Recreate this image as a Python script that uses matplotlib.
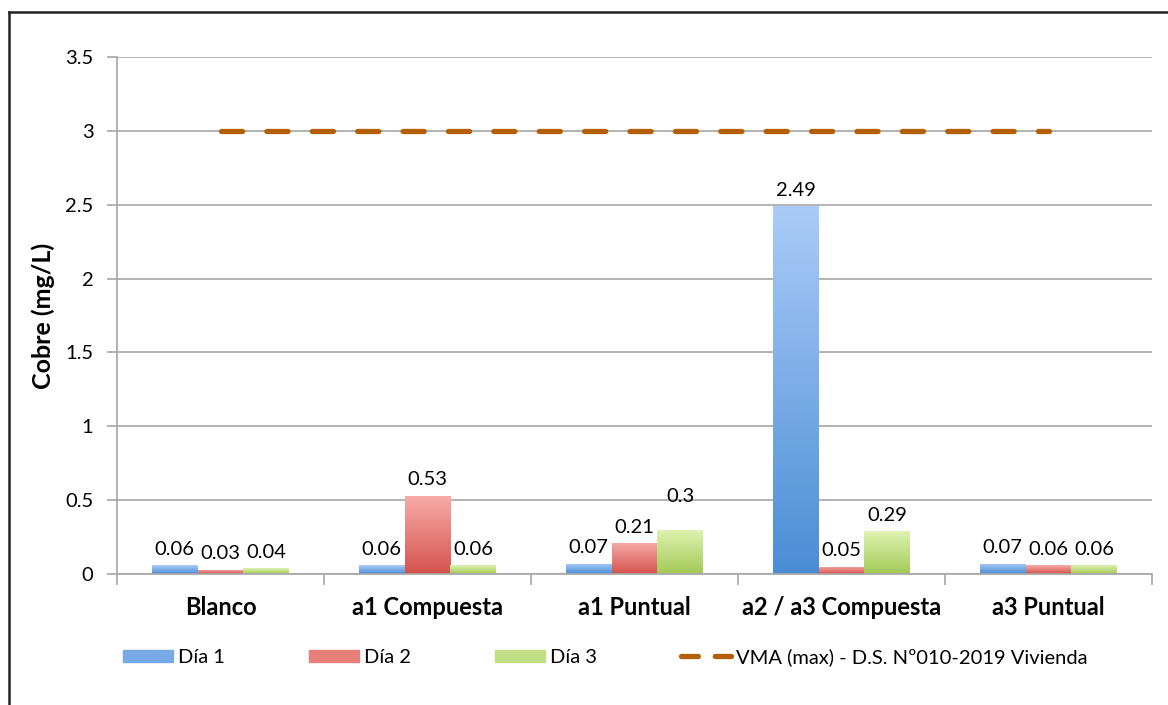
import numpy as np
import matplotlib
matplotlib.use("Agg")
import matplotlib.pyplot as plt
from matplotlib.colors import LinearSegmentedColormap
from matplotlib.lines import Line2D

plt.rcParams['font.family'] = ['Lato', 'DejaVu Sans']

# data
categories = ["Blanco", "a1 Compuesta", "a1 Puntual", "a2 / a3 Compuesta", "a3 Puntual"]
dia1 = [0.06, 0.06, 0.07, 2.49, 0.07]
dia2 = [0.03, 0.53, 0.21, 0.05, 0.06]
dia3 = [0.04, 0.06, 0.30, 0.29, 0.06]
series_names = ["Día 1", "Día 2", "Día 3"]
vma_value = 3.0
vma_name = "VMA (max) - D.S. Nº010-2019 Vivienda"

# gradient colours (top, bottom) for each series
grads = [("#aacbf7", "#4a8dd5"), ("#f8acaa", "#d5524d"), ("#def3b0", "#a3c957")]
mid_cols = ["#77a9e6", "#e77f7b", "#c0df84"]
vma_col = "#b45f06"

fig = plt.figure(figsize=(11.68, 7.05), dpi=100)
ax = fig.add_axes([117 / 1168, 1 - 574 / 705, (1152 - 117) / 1168, (574 - 57) / 705])

x = np.arange(len(categories))
w = 0.222
all_series = [dia1, dia2, dia3]

for i, vals in enumerate(all_series):
    cmap = LinearSegmentedColormap.from_list("g%d" % i, [grads[i][1], grads[i][0]])
    xs = x + (i - 1) * w
    bars = ax.bar(xs, vals, w, color=mid_cols[i], label=series_names[i], zorder=2)
    grad = np.linspace(0, 1, 256).reshape(-1, 1)
    for b, v in zip(bars, vals):
        b.set_facecolor("none")
        x0 = b.get_x()
        im = ax.imshow(grad, extent=[x0, x0 + w, 0, v], origin="lower",
                       aspect="auto", cmap=cmap, zorder=2)
        im.set_clip_path(b)
    for xi, v in zip(xs, vals):
        off = 0.12 if (v == 0.3) else 0.0   # this label sits higher in the original
        ax.text(xi, v + 0.05 + off, f"{v:g}", ha="center", va="bottom", fontsize=14.5)

# handles for legend with solid mid colours
handles = [plt.Rectangle((0, 0), 1, 1, color=c) for c in mid_cols]

ax.plot([x[0], x[-1]], [vma_value, vma_value], color=vma_col, lw=3.8,
        linestyle=(0, (4, 4.6)), dash_capstyle="round", zorder=3)
vma_handle = Line2D([], [], color=vma_col, lw=3.8, linestyle=(0, (3.2, 3.2)),
                    dash_capstyle="round")

ax.set_xlim(-0.5, len(categories) - 0.5)
ax.set_ylim(0, 3.5)
ax.set_yticks(np.arange(0, 3.51, 0.5))
ax.set_yticklabels(["0", "0.5", "1", "1.5", "2", "2.5", "3", "3.5"], fontsize=14.5)
ax.grid(axis="y", color="#a6a6a6", lw=1.2, zorder=0)
ax.set_axisbelow(True)

ax.set_xticks(x)
ax.set_xticklabels(categories, fontsize=17, fontweight="bold")
ax.tick_params(axis="x", which="major", length=0, pad=16)
ax.set_xticks(np.arange(-0.5, len(categories), 1), minor=True)
ax.tick_params(axis="x", which="minor", length=8, color="#a6a6a6", width=1.2)
ax.tick_params(axis="y", length=7, color="#a6a6a6", width=1.2, pad=10)

for s in ["top", "right"]:
    ax.spines[s].set_visible(False)
for s in ["left", "bottom"]:
    ax.spines[s].set_color("#a6a6a6")
    ax.spines[s].set_linewidth(1.2)

ax.set_ylabel("Cobre (mg/L)", fontsize=18, fontweight="bold", labelpad=7)

fig.legend(handles + [vma_handle], series_names + [vma_name],
           loc="center left", bbox_to_anchor=(123 / 1168, 1 - 657 / 705),
           ncol=4, frameon=False, fontsize=14.5, handlelength=2.5,
           handleheight=0.55, handletextpad=0.25, columnspacing=4.15,
           borderaxespad=0, borderpad=0)

# outer frame (left and top edges)
fig.add_artist(Line2D([9 / 1168, 9 / 1168], [0, 1 - 12 / 705], color="#222222", lw=1.8))
fig.add_artist(Line2D([9 / 1168, 1], [1 - 12 / 705, 1 - 12 / 705], color="#222222", lw=1.8))

fig.savefig("out.png", dpi=100)
